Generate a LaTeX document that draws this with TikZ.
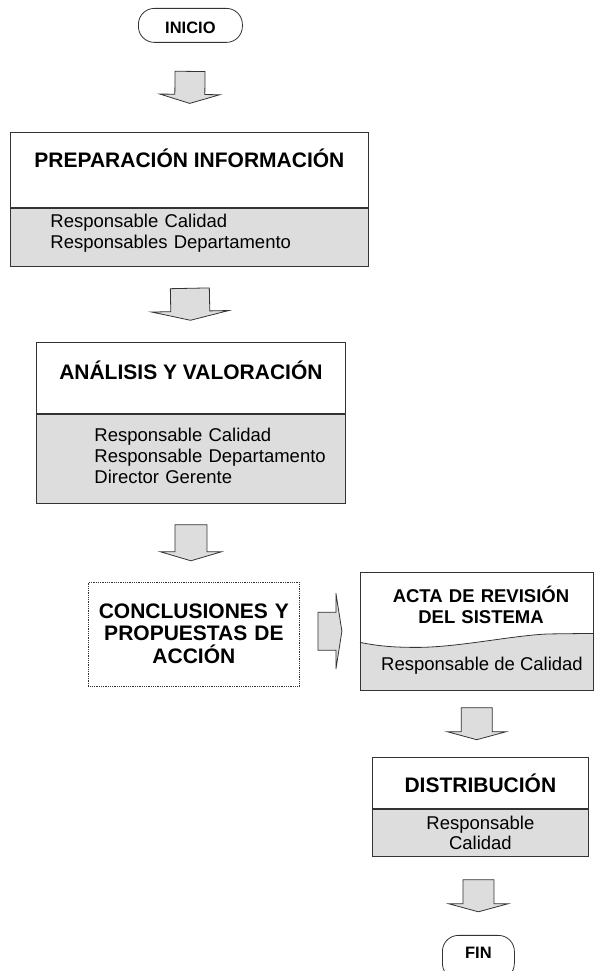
\documentclass[tikz,border=0pt]{standalone}
\usepackage{fontspec}
\setmainfont{Liberation Sans}
\usetikzlibrary{shapes.geometric, arrows, positioning, calc}
\definecolor{infogray}{RGB}{221,221,221}
\definecolor{linegray}{RGB}{51,51,51}
\tikzstyle{startend} = [rectangle, rounded corners=16bp, draw=linegray, line width=0.8bp, fill=white, inner sep=0pt, font=\fontsize{16.5bp}{19bp}\selectfont\bfseries]
\tikzstyle{titlebox} = [rectangle, draw=linegray, line width=0.8bp, fill=white, inner sep=0pt, align=center, font=\fontsize{21bp}{22.5bp}\selectfont\bfseries]
\tikzstyle{infobox} = [rectangle, draw=linegray, line width=0.8bp, fill=infogray, inner sep=0pt, align=left, font=\fontsize{18.5bp}{21bp}\selectfont]
\tikzset{
  blockarrow/.style args={#1/#2/#3/#4}{draw=linegray, line width=0.8bp, fill=infogray,
    to path={
      ($(\tikztostart)!0.5!(\tikztotarget)$) coordinate (bmid)
      ($(bmid)!#3!(\tikztostart)$) coordinate (bstart)
      ($(bmid)!#3!(\tikztotarget)$) coordinate (btip)
      ($(btip)!#4!(bstart)$) coordinate (bhead)
      ($(bstart)!#1!90:(btip)$) -- ($(bhead)!#1!90:(btip)$)
      -- ($(bhead)!#2!90:(btip)$) -- (btip)
      -- ($(bhead)!#2!-90:(btip)$) -- ($(bhead)!#1!-90:(btip)$)
      -- ($(bstart)!#1!-90:(btip)$) -- cycle}},
  blockarrow/.default={15bp/30bp/16bp/9bp}
}

\begin{document}
\begin{tikzpicture}[x=1bp, y=1bp]
\useasboundingbox (0,0) rectangle (594,971);

\node (inicio) [startend, minimum width=104bp, text height=25bp, text depth=9bp, anchor=north west] at (138,963) {INICIO};

\node (prep) [titlebox, minimum width=358bp, text height=35bp, text depth=40bp, anchor=north west] at (10,839) {PREPARACIÓN INFORMACIÓN};
\node (prepinfo) [infobox, text width=358bp, text height=19bp, text depth=39bp, below=0pt of prep] {\hspace*{40bp}Responsable Calidad\\\hspace*{40bp}Responsables Departamento};

\node (anal) [titlebox, minimum width=309bp, text height=37bp, text depth=34bp, anchor=north west] at (36,629) {ANÁLISIS Y VALORACIÓN};
\node (analinfo) [infobox, text width=309bp, text height=27bp, text depth=62bp, below=0pt of anal] {\hspace*{58bp}Responsable Calidad\\\hspace*{58bp}Responsable Departamento\\\hspace*{58bp}Director Gerente};

\node (concl) [titlebox, densely dotted, text width=211bp, text height=36bp, text depth=68bp, anchor=north west] at (88,389) {CONCLUSIONES Y\\PROPUESTAS DE\\ACCIÓN};

% acta: gray box with white wavy top
\node (acta) [rectangle, fill=infogray, inner sep=0pt, minimum width=233bp, minimum height=118bp, anchor=north west] at (360,399) {};
\fill[white] ($(acta.south west)+(0,48)$) .. controls +(20,-4) and +(-22,0) .. ($(acta.south west)+(57,43)$) .. controls +(43,0) and +(-33,0) .. ($(acta.south west)+(193,56.5)$) -- ($(acta.south east)+(0,57)$) -- (acta.north east) -- (acta.north west) -- cycle;
\draw[linegray, line width=0.8bp] ($(acta.south west)+(0,48)$) .. controls +(20,-4) and +(-22,0) .. ($(acta.south west)+(57,43)$) .. controls +(43,0) and +(-33,0) .. ($(acta.south west)+(193,56.5)$) -- ($(acta.south east)+(0,57)$);
\draw[linegray, line width=0.8bp] (acta.south west) rectangle (acta.north east);
\node (actatitle) [align=center, text width=230bp, inner sep=0pt, anchor=base, font=\fontsize{18.5bp}{20.5bp}\selectfont\bfseries] at (481,368) {ACTA DE REVISIÓN\\DEL SISTEMA};
\node (actainfo) [inner sep=0pt, anchor=base, font=\fontsize{18.5bp}{21bp}\selectfont] at (482,300) {Responsable de Calidad};

\node (dist) [titlebox, minimum width=216bp, text height=35bp, text depth=16bp, anchor=north west] at (372,214) {DISTRIBUCIÓN};
\node (distinfo) [infobox, align=center, text width=216bp, text height=20bp, text depth=27bp, font=\fontsize{18.5bp}{20bp}\selectfont, below=0pt of dist] {Responsable\\Calidad};

\node (fin) [startend, minimum width=72bp, text height=23bp, text depth=21bp, anchor=north west] at (442,36) {FIN};

\draw [blockarrow] (inicio.south) to (prep.north);
\draw [blockarrow={19.5bp/38.5bp/16bp/9bp}] (prepinfo.south) to (anal.north);
\draw [blockarrow={16bp/30.5bp/18bp/9bp}] (analinfo.south) to (analinfo.south |- concl.north);
\draw [blockarrow={19bp/38bp/12bp/6bp}] (concl.east |- acta.west) to (acta.west);
\draw [blockarrow={15.5bp/29.5bp/16bp/8bp}] (acta.south) to (acta.south |- dist.north);
\draw [blockarrow={15.5bp/29.5bp/16bp/8bp}] (fin.north |- distinfo.south) to (fin.north);

\end{tikzpicture}
\end{document}
